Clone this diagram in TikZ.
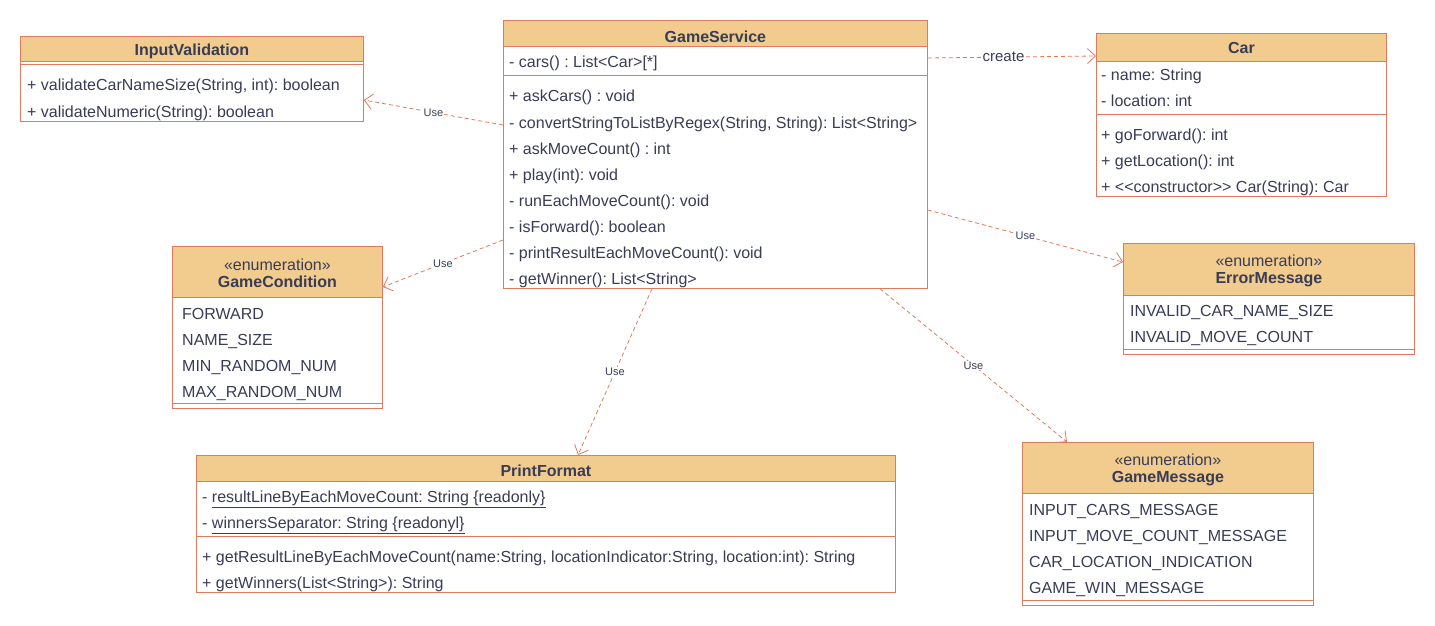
\documentclass[tikz,border=0pt]{standalone}
\usepackage{fontspec}
\setmainfont{Liberation Sans}
\usetikzlibrary{arrows.meta,calc}
\definecolor{edgec}{HTML}{E07A5F}
\definecolor{headc}{HTML}{F2CC8F}
\definecolor{textc}{HTML}{393C56}
\frenchspacing
\begin{document}
\begin{tikzpicture}[x=1pt,y=-1pt,
  font=\fontsize{16}{18}\selectfont,
  cls/.style={draw=edgec, line width=0.8pt, fill=white, anchor=north west, inner sep=0pt},
  hdr/.style={draw=edgec, line width=0.8pt, fill=headc, anchor=north west, inner sep=0pt},
  title/.style={inner sep=0pt, text=textc, align=center},
  item/.style={anchor=base west, inner sep=0pt, text=textc},
  sepline/.style={draw=edgec, line width=0.8pt},
  dep/.style={draw=edgec, line width=0.8pt, dash pattern=on 4pt off 3pt,
    -{Straight Barb[length=8pt,width=15pt,line width=0.8pt]}},
  lbl/.style={fill=white, inner sep=1pt, text=textc, font=\fontsize{11}{13}\selectfont},
]
\useasboundingbox[fill=white] (0,0) rectangle (1435,626);

% ---------- InputValidation ----------
\node[cls, minimum width=343pt, minimum height=85pt] (iv) at (20,36) {};
\node[hdr, minimum width=343pt, minimum height=25pt] (ivh) at (20,36) {};
\node[title] (ivt) at ($(ivh.center)+(0,2.5)$) {\textbf{InputValidation}};
\draw[sepline] ($(iv.north west)+(0,28)$) -- ($(iv.north east)+(0,28)$);
\foreach \t [count=\i] in {{+ validateCarNameSize(String, int): boolean},{+ validateNumeric(String): boolean}}
  \node[item] (iv-m\i) at (27, 65+26*\i) {\t};

% ---------- GameService ----------
\node[cls, minimum width=424pt, minimum height=268pt] (gs) at (503,20) {};
\node[hdr, minimum width=424pt, minimum height=26pt] (gsh) at (503,20) {};
\node[title] (gst) at ($(gsh.center)+(0,3)$) {\textbf{GameService}};
\node[item] (gs-a1) at (509,68) {- cars() : List<Car>[*]};
\draw[sepline] ($(gs.north west)+(0,55)$) -- ($(gs.north east)+(0,55)$);
\foreach \t [count=\i] in {{+ askCars() : void},
  {- convertStringToListByRegex(String, String): List<String>},
  {+ askMoveCount() : int},{+ play(int): void},{- runEachMoveCount(): void},
  {- isForward(): boolean},{- printResultEachMoveCount(): void},{- getWinner(): List<String>}}
  \node[item] (gs-m\i) at (509, 76+26*\i) {\t};

% ---------- Car ----------
\node[cls, minimum width=290pt, minimum height=163pt] (car) at (1096,33) {};
\node[hdr, minimum width=290pt, minimum height=28pt] (carh) at (1096,33) {};
\node[title] (cart) at ($(carh.center)+(0,1)$) {\textbf{Car}};
\foreach \t [count=\i] in {{- name: String},{- location: int}}
  \node[item] (car-a\i) at (1101, 54.5+26*\i) {\t};
\draw[sepline] ($(car.north west)+(0,81)$) -- ($(car.north east)+(0,81)$);
\foreach \t [count=\i] in {{+ goForward(): int},{+ getLocation(): int},{+ <{}<constructor>{}> Car(String): Car}}
  \node[item] (car-m\i) at (1101, 114+26*\i) {\t};

% ---------- GameCondition ----------
\node[cls, minimum width=210pt, minimum height=162pt] (gc) at (172,246) {};
\node[hdr, minimum width=210pt, minimum height=51pt] (gch) at (172,246) {};
\node[title] (gct) at ($(gch.center)+(0,1.5)$) {«enumeration»\\[-1pt]\textbf{GameCondition}};
\foreach \t [count=\i] in {FORWARD,NAME\_SIZE,MIN\_RANDOM\_NUM,MAX\_RANDOM\_NUM}
  \node[item] (gc-v\i) at (182, 293+26*\i) {\t};
\draw[sepline] ($(gc.north west)+(0,157)$) -- ($(gc.north east)+(0,157)$);

% ---------- ErrorMessage ----------
\node[cls, minimum width=291pt, minimum height=111pt] (em) at (1123,243) {};
\node[hdr, minimum width=291pt, minimum height=52pt] (emh) at (1123,243) {};
\node[title] (emt) at ($(emh.center)+(0,1.5)$) {«enumeration»\\[-1pt]\textbf{ErrorMessage}};
\foreach \t [count=\i] in {INVALID\_CAR\_NAME\_SIZE,INVALID\_MOVE\_COUNT}
  \node[item] (em-v\i) at (1130, 290+26*\i) {\t};
\draw[sepline] ($(em.north west)+(0,106)$) -- ($(em.north east)+(0,106)$);

% ---------- PrintFormat ----------
\node[cls, minimum width=699pt, minimum height=137pt] (pf) at (196,455) {};
\node[hdr, minimum width=699pt, minimum height=26pt] (pfh) at (196,455) {};
\node[title] (pft) at ($(pfh.center)+(0,2.5)$) {\textbf{PrintFormat}};
\node[item] (pf-a1) at (202,502) {- \underline{resultLineByEachMoveCount: String \{readonly\}}};
\node[item] (pf-a2) at (202,528) {- \underline{winnersSeparator: String \{readonyl\}}};
\draw[sepline] ($(pf.north west)+(0,81)$) -- ($(pf.north east)+(0,81)$);
\node[item] (pf-m1) at (202,562) {+ getResultLineByEachMoveCount(name:String, locationIndicator:String, location:int): String};
\node[item] (pf-m2) at (202,588) {+ getWinners(List<String>): String};

% ---------- GameMessage ----------
\node[cls, minimum width=291pt, minimum height=163pt] (gm) at (1022,442) {};
\node[hdr, minimum width=291pt, minimum height=51pt] (gmh) at (1022,442) {};
\node[title] (gmt) at ($(gmh.center)+(0,1.5)$) {«enumeration»\\[-1pt]\textbf{GameMessage}};
\foreach \t [count=\i] in {INPUT\_CARS\_MESSAGE,INPUT\_MOVE\_COUNT\_MESSAGE,CAR\_LOCATION\_INDICATION,GAME\_WIN\_MESSAGE}
  \node[item] (gm-v\i) at (1029, 489+26*\i) {\t};
\draw[sepline] ($(gm.north west)+(0,158)$) -- ($(gm.north east)+(0,158)$);

% ---------- dependencies ----------
\draw[dep] ($(gs.north west)+(0,105)$) -- node[lbl] {Use} ($(iv.north east)+(0,64)$);
\draw[dep] ($(gs.north east)+(0,38)$) -- node[lbl, pos=0.45, font=\fontsize{15}{17}\selectfont] {create} ($(car.north west)+(0,23)$);
\draw[dep] ($(gs.north west)+(0,220)$) -- node[lbl] {Use} ($(gc.north east)+(0,41)$);
\draw[dep] ($(gs.north east)+(0,190)$) -- node[lbl] {Use} ($(em.north west)+(0,19)$);
\draw[dep] ($(gs.south west)+(149,0)$) -- node[lbl] {Use} ($(pf.north west)+(382,0)$);
\draw[dep] ($(gs.south west)+(377,0)$) -- node[lbl] {Use} ($(gm.north west)+(45,0)$);
\end{tikzpicture}
\end{document}
